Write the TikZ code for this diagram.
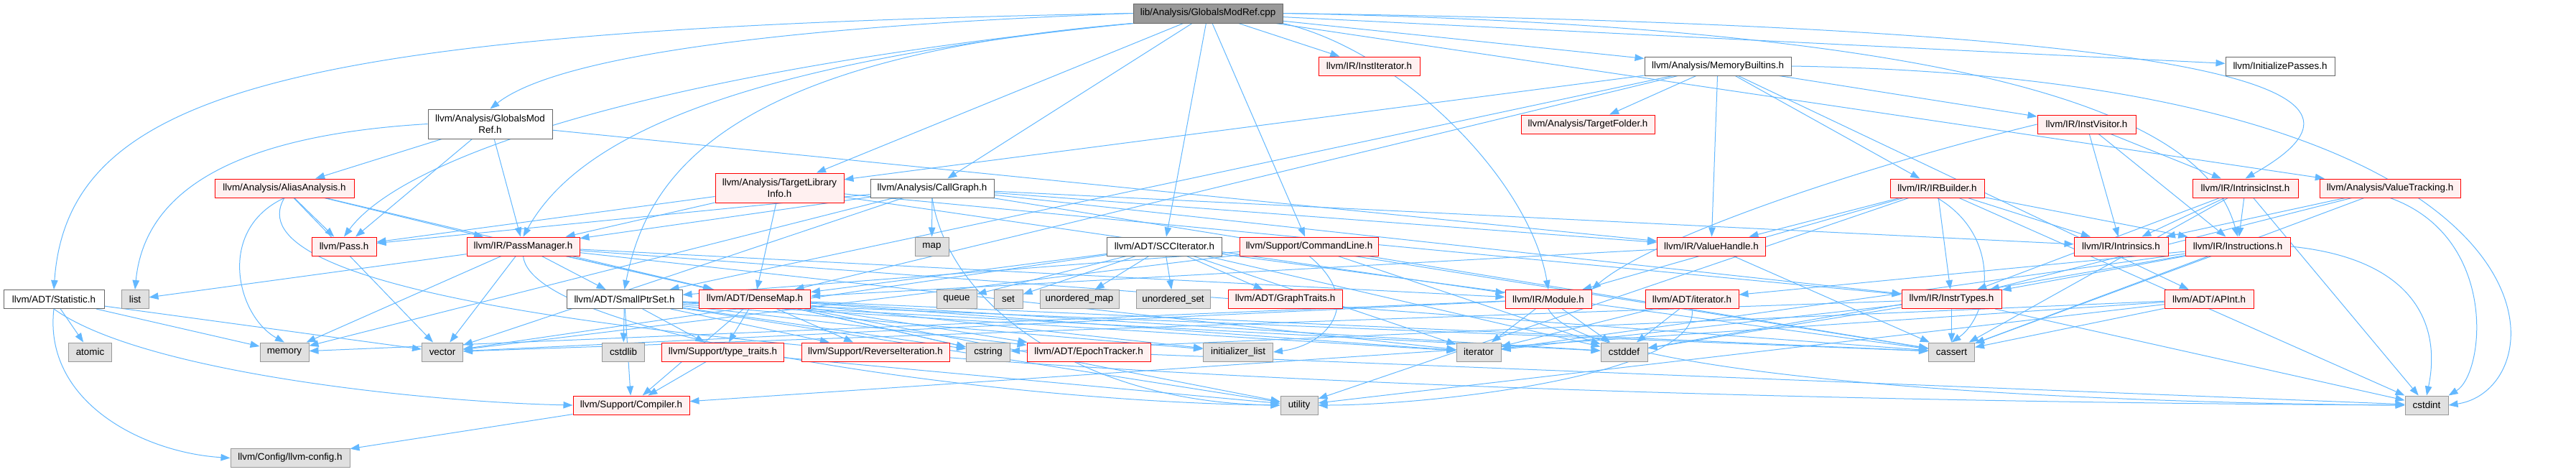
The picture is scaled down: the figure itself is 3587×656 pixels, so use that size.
\documentclass[tikz,border=0pt]{standalone}
\usepackage{fontspec}
\setmainfont{Liberation Sans}
\usetikzlibrary{arrows.meta,backgrounds}
\definecolor{linkblue}{RGB}{99,184,255}
\definecolor{softred}{RGB}{255,240,240}
\definecolor{leafgray}{RGB}{224,224,224}
\definecolor{leafedge}{RGB}{153,153,153}
\definecolor{rootgray}{RGB}{153,153,153}
\definecolor{darkedge}{RGB}{102,102,102}
\tikzset{
  hdr/.style={rectangle, draw=darkedge, fill=white, line width=1pt,
              minimum height=26pt, inner sep=0pt, align=center,
              font=\fontsize{13.4}{15.5}\selectfont},
  hdrred/.style={hdr, draw=red, fill=softred},
  hdrgray/.style={hdr, draw=leafedge, fill=leafgray},
  hdrroot/.style={hdr, fill=rootgray},
  arrow/.style={-{Triangle[length=13pt,width=9.5pt]}, linkblue, line width=1pt},
}

\begin{document}
\begin{tikzpicture}[x=1pt,y=1pt]
\useasboundingbox (0,0) rectangle (3587,-656);

% row 1 and 2
\node[hdrroot, minimum width=208pt, minimum height=27pt] (root) at (1682,-18.5) {lib/Analysis/GlobalsModRef.cpp};
\node[hdrred, minimum width=141pt] (iit) at (1906.5,-92) {llvm/IR/InstIterator.h};
\node[hdr, minimum width=204pt] (mb) at (2392,-92) {llvm/Analysis/MemoryBuiltins.h};
\node[hdr, minimum width=152pt] (initp) at (3175,-92) {llvm/InitializePasses.h};

% row 3
\node[hdr, minimum width=173pt, minimum height=41pt] (gmrh) at (682.5,-172.5) {llvm/Analysis/GlobalsMod\\Ref.h};
\node[hdrred, minimum width=186pt] (tfold) at (2211,-173) {llvm/Analysis/TargetFolder.h};
\node[hdrred, minimum width=137pt] (ivis) at (2905.5,-173) {llvm/IR/InstVisitor.h};

% row 4
\node[hdrred, minimum width=194pt] (aa) at (396,-262) {llvm/Analysis/AliasAnalysis.h};
\node[hdrred, minimum width=179pt, minimum height=41pt] (tli) at (1085.5,-261.5) {llvm/Analysis/TargetLibrary\\Info.h};
\node[hdr, minimum width=172pt] (cg) at (1298,-262) {llvm/Analysis/CallGraph.h};
\node[hdrred, minimum width=131pt] (irb) at (2697.5,-262) {llvm/IR/IRBuilder.h};
\node[hdrred, minimum width=147pt] (iinst) at (3126.5,-262) {llvm/IR/IntrinsicInst.h};
\node[hdrred, minimum width=196pt] (vt) at (3328,-262) {llvm/Analysis/ValueTracking.h};

% row 5
\node[hdrred, minimum width=90pt] (pass) at (479,-343) {llvm/Pass.h};
\node[hdrred, minimum width=157pt] (pm) at (728.5,-343) {llvm/IR/PassManager.h};
\node[hdrgray, minimum width=47pt] (smap) at (1297.5,-343) {map};
\node[hdr, minimum width=160pt] (scc) at (1621.5,-343) {llvm/ADT/SCCIterator.h};
\node[hdrred, minimum width=193pt] (cl) at (1823,-343) {llvm/Support/CommandLine.h};
\node[hdrred, minimum width=151pt] (vh) at (2383,-343) {llvm/IR/ValueHandle.h};
\node[hdrred, minimum width=131pt] (intr) at (2953.5,-343) {llvm/IR/Intrinsics.h};
\node[hdrred, minimum width=146pt] (instr) at (3116,-343) {llvm/IR/Instructions.h};

% row 6
\node[hdr, minimum width=140pt] (stat) at (75,-416.5) {llvm/ADT/Statistic.h};
\node[hdrgray, minimum width=38pt] (slist) at (188,-416.5) {list};
\node[hdr, minimum width=161pt] (sps) at (869.5,-416.5) {llvm/ADT/SmallPtrSet.h};
\node[hdrred, minimum width=155pt] (dm) at (1051,-416.5) {llvm/ADT/DenseMap.h};
\node[hdrgray, minimum width=56pt] (squeue) at (1332,-416.5) {queue};
\node[hdrgray, minimum width=40pt] (sset) at (1404,-416.5) {set};
\node[hdrgray, minimum width=110pt] (sumap) at (1503,-416.5) {unordered\_map};
\node[hdrgray, minimum width=103pt] (suset) at (1633.5,-416.5) {unordered\_set};
\node[hdrred, minimum width=159pt] (gtraits) at (1789.5,-416.5) {llvm/ADT/GraphTraits.h};
\node[hdrred, minimum width=120pt] (mod) at (2156,-416.5) {llvm/IR/Module.h};
\node[hdrred, minimum width=130pt] (adtiter) at (2356,-416.5) {llvm/ADT/iterator.h};
\node[hdrred, minimum width=139pt] (itypes) at (2717.5,-416.5) {llvm/IR/InstrTypes.h};
\node[hdrred, minimum width=124pt] (apint) at (3076,-416.5) {llvm/ADT/APInt.h};

% row 7
\node[hdrgray, minimum width=60pt] (satomic) at (125.5,-490) {atomic};
\node[hdrgray, minimum width=68pt] (smemory) at (396,-490) {memory};
\node[hdrgray, minimum width=57pt] (svector) at (616,-490) {vector};
\node[hdrgray, minimum width=59pt] (scstdlib) at (868,-490) {cstdlib};
\node[hdrred, minimum width=170pt] (ttraits) at (1006.5,-490) {llvm/Support/type\_traits.h};
\node[hdrred, minimum width=206pt] (reviter) at (1219,-490) {llvm/Support/ReverseIteration.h};
\node[hdrgray, minimum width=61pt] (scstring) at (1376,-490) {cstring};
\node[hdrred, minimum width=172pt] (epoch) at (1516,-490) {llvm/ADT/EpochTracker.h};
\node[hdrgray, minimum width=97pt] (sinitl) at (1724,-490) {initializer\_list};
\node[hdrgray, minimum width=62pt] (siterator) at (2059,-490) {iterator};
\node[hdrgray, minimum width=65pt] (scstddef) at (2261.5,-490) {cstddef};
\node[hdrgray, minimum width=64pt] (scassert) at (2717.5,-490) {cassert};

% rows 8 and 9
\node[hdrred, minimum width=162pt] (compiler) at (879,-564) {llvm/Support/Compiler.h};
\node[hdrgray, minimum width=52pt] (sutility) at (1809,-564) {utility};
\node[hdrgray, minimum width=60pt] (scstdint) at (3379,-564) {cstdint};
\node[hdrgray, minimum width=166pt] (config) at (404,-637.5) {llvm/Config/llvm-config.h};

\begin{scope}[on background layer]
% includes of the source file
\foreach \b in {iit, mb, initp, tli, cg, scc, cl, vt}
  \draw[arrow] (root) -- (\b);
\draw[arrow] (root.west) .. controls (420,-40) and (95,-120) .. (stat.north);
\draw[arrow] (root.west) .. controls (1000,-40) and (760,-90) .. (gmrh.north);
\draw[arrow] (root.south west) .. controls (900,-100) and (560,-220) .. (pass.north);
\draw[arrow] (root.south west) .. controls (1000,-90) and (800,-200) .. (pm.north);
\draw[arrow] (root.south west) .. controls (1000,-80) and (900,-250) .. (sps.north);
\draw[arrow] (root.south east) .. controls (1950,-70) and (2130,-250) .. (mod.north);
\draw[arrow] (root.east) .. controls (2900,-40) and (3080,-200) .. (instr.north);
\draw[arrow] (root.east) .. controls (3300,-40) and (3300,-150) .. (iinst.north);

% analysis headers
\foreach \b in {aa, pm, pass, vh}
  \draw[arrow] (gmrh) -- (\b);
\draw[arrow] (gmrh.west) .. controls (300,-190) and (200,-280) .. (slist.north);
\foreach \b in {pass, pm, dm, svector}
  \draw[arrow] (aa) -- (\b);
\draw[arrow] (aa.south) .. controls (300,-320) and (330,-440) .. (smemory.north);
\draw[arrow] (aa.south) .. controls (250,-520) and (2500,-560) .. (scstdint.west);
\foreach \b in {pm, pass, dm, mod, itypes}
  \draw[arrow] (tli) -- (\b);
\foreach \b in {smap, pm, pass, vh, intr, itypes, smemory, svector, scassert}
  \draw[arrow] (cg) -- (\b);
\draw[arrow] (cg.south) .. controls (1320,-420) and (1500,-560) .. (sutility.west);
\foreach \b in {tfold, ivis, irb, tli, dm, vh, apint, sps}
  \draw[arrow] (mb) -- (\b);
\draw[arrow] (mb.east) .. controls (3600,-110) and (3570,-540) .. (scstdint.east);

% IR headers
\foreach \b in {instr, iinst, intr}
  \draw[arrow] (ivis) -- (\b);
\draw[arrow] (ivis.west) .. controls (2600,-230) and (2300,-330) .. (mod.north east);
\foreach \b in {vh, mod, itypes, intr, instr, scstdint, sutility}
  \draw[arrow] (irb) -- (\b);
\draw[arrow] (irb.south) .. controls (2790,-330) and (2770,-440) .. (scassert.north);
\foreach \b in {intr, instr, itypes, scassert, scstdint}
  \draw[arrow] (iinst) -- (\b);
\foreach \b in {intr, itypes, scassert}
  \draw[arrow] (vt) -- (\b);
\draw[arrow] (vt.south) .. controls (3480,-330) and (3460,-520) .. (scstdint.north east);
\foreach \b in {dm, sps, mod, slist, smemory, svector, scstring, siterator, scassert}
  \draw[arrow] (pm) -- (\b);
\draw[arrow] (pm.south) .. controls (740,-470) and (1400,-560) .. (sutility.west);
\foreach \b in {squeue, sset, sumap, suset, gtraits, dm, scassert, scstddef, siterator, svector}
  \draw[arrow] (scc) -- (\b);
\foreach \b in {sps, scassert, scstddef, svector}
  \draw[arrow] (cl) -- (\b);
\draw[arrow] (cl.south) .. controls (1900,-420) and (1850,-480) .. (sinitl.east);
\foreach \b in {dm, scassert}
  \draw[arrow] (vh) -- (\b);
\foreach \b in {itypes, adtiter, scassert, scstddef, siterator}
  \draw[arrow] (instr) -- (\b);
\draw[arrow] (instr.east) .. controls (3360,-360) and (3400,-450) .. (scstdint.north);
\foreach \b in {compiler, scassert, scstring, sutility}
  \draw[arrow] (apint) -- (\b);
\foreach \b in {scassert, scstddef, scstdint, siterator, svector}
  \draw[arrow] (itypes) -- (\b);
\foreach \b in {siterator, scstddef, smemory, svector}
  \draw[arrow] (mod) -- (\b);
\draw[arrow] (mod.south) .. controls (2200,-520) and (2800,-560) .. (scstdint.west);
\foreach \b in {siterator, scstddef}
  \draw[arrow] (adtiter) -- (\b);
\draw[arrow] (adtiter.south) .. controls (2370,-520) and (2000,-564) .. (sutility.east);

% support headers
\foreach \b in {satomic, smemory, svector}
  \draw[arrow] (stat) -- (\b);
\draw[arrow] (stat.south) .. controls (200,-520) and (600,-560) .. (compiler.west);
\draw[arrow] (stat.south) .. controls (60,-560) and (200,-630) .. (config.west);
\foreach \b in {epoch, compiler, reviter, ttraits, scassert, scstddef, scstdlib, scstring, sinitl, siterator, sutility}
  \draw[arrow] (sps) -- (\b);
\foreach \b in {epoch, compiler, reviter, ttraits, scassert, scstddef, scstring, sinitl, siterator, sutility}
  \draw[arrow] (dm) -- (\b);
\foreach \b in {compiler, sutility}
  \draw[arrow] (ttraits) -- (\b);
\draw[arrow] (epoch) -- (scstdint);
\draw[arrow] (compiler) -- (config);
\end{scope}
\end{tikzpicture}
\end{document}
